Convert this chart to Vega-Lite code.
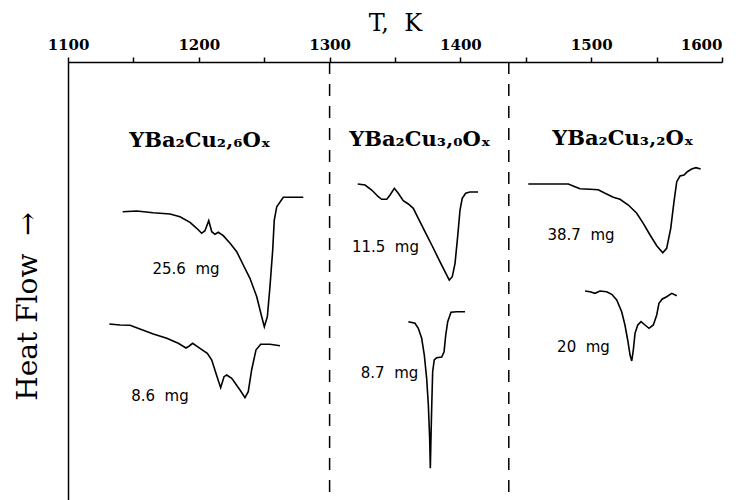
{
  "$schema": "https://vega.github.io/schema/vega-lite/v6.json",
  "width": 654,
  "height": 438,
  "autosize": {"type": "none"},
  "padding": {"left": 68, "top": 62, "right": 18, "bottom": 0},
  "background": "white",
  "config": {"view": {"stroke": null}},
  "datasets": {
    "curves": [
      {"s":"25.6","i":0,"T":1141.8,"hf":288.3},{"s":"25.6","i":1,"T":1152.5,"hf":289},{"s":"25.6","i":2,"T":1165.2,"hf":287.3},{"s":"25.6","i":3,"T":1178.0,"hf":286},{"s":"25.6","i":4,"T":1185.6,"hf":283.3},{"s":"25.6","i":5,"T":1193.3,"hf":277.7},{"s":"25.6","i":6,"T":1198.4,"hf":271.7},{"s":"25.6","i":7,"T":1202.2,"hf":266.7},{"s":"25.6","i":8,"T":1204.7,"hf":269.3},{"s":"25.6","i":9,"T":1207.6,"hf":279.3},{"s":"25.6","i":10,"T":1209.9,"hf":268.3},{"s":"25.6","i":11,"T":1212.4,"hf":265.7},{"s":"25.6","i":12,"T":1214.9,"hf":267.7},{"s":"25.6","i":13,"T":1218.7,"hf":264.3},{"s":"25.6","i":14,"T":1223.9,"hf":256.7},{"s":"25.6","i":15,"T":1229.0,"hf":248.3},{"s":"25.6","i":16,"T":1234.0,"hf":235},{"s":"25.6","i":17,"T":1239.1,"hf":221.7},{"s":"25.6","i":18,"T":1244.3,"hf":203.3},{"s":"25.6","i":19,"T":1248.1,"hf":183.3},{"s":"25.6","i":20,"T":1250.1,"hf":173.3},{"s":"25.6","i":21,"T":1252.4,"hf":183.3},{"s":"25.6","i":22,"T":1254.4,"hf":213.3},{"s":"25.6","i":23,"T":1256.5,"hf":250},{"s":"25.6","i":24,"T":1257.7,"hf":280},{"s":"25.6","i":25,"T":1259.6,"hf":293.3},{"s":"25.6","i":26,"T":1264.6,"hf":302.7},{"s":"25.6","i":27,"T":1279.9,"hf":302.7},
      {"s":"8.6","i":0,"T":1131.6,"hf":176},{"s":"8.6","i":1,"T":1139.8,"hf":175},{"s":"8.6","i":2,"T":1147.4,"hf":174.7},{"s":"8.6","i":3,"T":1155.0,"hf":171},{"s":"8.6","i":4,"T":1165.2,"hf":166},{"s":"8.6","i":5,"T":1175.5,"hf":161.7},{"s":"8.6","i":6,"T":1184.3,"hf":156.7},{"s":"8.6","i":7,"T":1190.2,"hf":152},{"s":"8.6","i":8,"T":1192.7,"hf":154},{"s":"8.6","i":9,"T":1195.3,"hf":156.7},{"s":"8.6","i":10,"T":1200.9,"hf":151.7},{"s":"8.6","i":11,"T":1206.5,"hf":146.7},{"s":"8.6","i":12,"T":1209.9,"hf":140},{"s":"8.6","i":13,"T":1213.1,"hf":126.7},{"s":"8.6","i":14,"T":1216.7,"hf":112.3},{"s":"8.6","i":15,"T":1219.3,"hf":123.3},{"s":"8.6","i":16,"T":1221.3,"hf":125},{"s":"8.6","i":17,"T":1225.2,"hf":121.7},{"s":"8.6","i":18,"T":1231.5,"hf":110},{"s":"8.6","i":19,"T":1235.3,"hf":102.3},{"s":"8.6","i":20,"T":1237.8,"hf":108.3},{"s":"8.6","i":21,"T":1240.4,"hf":130},{"s":"8.6","i":22,"T":1243.7,"hf":150},{"s":"8.6","i":23,"T":1247.3,"hf":155.7},{"s":"8.6","i":24,"T":1254.4,"hf":155.7},{"s":"8.6","i":25,"T":1262.1,"hf":154.3},
      {"s":"11.5","i":0,"T":1321.5,"hf":316},{"s":"11.5","i":1,"T":1327.1,"hf":315},{"s":"11.5","i":2,"T":1332.2,"hf":310},{"s":"11.5","i":3,"T":1337.2,"hf":303.3},{"s":"11.5","i":4,"T":1339.8,"hf":300.7},{"s":"11.5","i":5,"T":1343.7,"hf":300.7},{"s":"11.5","i":6,"T":1346.2,"hf":305},{"s":"11.5","i":7,"T":1349.5,"hf":311.7},{"s":"11.5","i":8,"T":1352.5,"hf":306.7},{"s":"11.5","i":9,"T":1356.3,"hf":299.3},{"s":"11.5","i":10,"T":1360.2,"hf":296},{"s":"11.5","i":11,"T":1364.0,"hf":291.7},{"s":"11.5","i":12,"T":1367.8,"hf":281.7},{"s":"11.5","i":13,"T":1372.9,"hf":268.3},{"s":"11.5","i":14,"T":1378.1,"hf":255},{"s":"11.5","i":15,"T":1383.1,"hf":241.7},{"s":"11.5","i":16,"T":1388.2,"hf":228.3},{"s":"11.5","i":17,"T":1391.5,"hf":220},{"s":"11.5","i":18,"T":1393.8,"hf":223.3},{"s":"11.5","i":19,"T":1395.9,"hf":236.7},{"s":"11.5","i":20,"T":1397.9,"hf":263.3},{"s":"11.5","i":21,"T":1399.7,"hf":290},{"s":"11.5","i":22,"T":1401.4,"hf":301.7},{"s":"11.5","i":23,"T":1404.0,"hf":306.7},{"s":"11.5","i":24,"T":1407.3,"hf":308},{"s":"11.5","i":25,"T":1413.5,"hf":308},
      {"s":"8.7","i":0,"T":1360.2,"hf":178.3},{"s":"8.7","i":1,"T":1365.3,"hf":176.7},{"s":"8.7","i":2,"T":1367.8,"hf":171.7},{"s":"8.7","i":3,"T":1370.4,"hf":161.7},{"s":"8.7","i":4,"T":1372.4,"hf":145},{"s":"8.7","i":5,"T":1374.2,"hf":121.7},{"s":"8.7","i":6,"T":1375.5,"hf":95},{"s":"8.7","i":7,"T":1376.5,"hf":61.7},{"s":"8.7","i":8,"T":1377.0,"hf":31.7},{"s":"8.7","i":9,"T":1377.5,"hf":61.7},{"s":"8.7","i":10,"T":1378.1,"hf":95},{"s":"8.7","i":11,"T":1378.8,"hf":128.3},{"s":"8.7","i":12,"T":1380.0,"hf":140},{"s":"8.7","i":13,"T":1381.9,"hf":142.3},{"s":"8.7","i":14,"T":1385.7,"hf":143},{"s":"8.7","i":15,"T":1387.5,"hf":148.3},{"s":"8.7","i":16,"T":1388.8,"hf":165},{"s":"8.7","i":17,"T":1390.3,"hf":178.3},{"s":"8.7","i":18,"T":1392.8,"hf":187.7},{"s":"8.7","i":19,"T":1397.2,"hf":188.3},{"s":"8.7","i":20,"T":1403.5,"hf":188.3},
      {"s":"38.7","i":0,"T":1451.9,"hf":316},{"s":"38.7","i":1,"T":1465.9,"hf":316},{"s":"38.7","i":2,"T":1482.5,"hf":316},{"s":"38.7","i":3,"T":1487.6,"hf":313.3},{"s":"38.7","i":4,"T":1491.4,"hf":311.3},{"s":"38.7","i":5,"T":1499.1,"hf":310.7},{"s":"38.7","i":6,"T":1505.4,"hf":310.3},{"s":"38.7","i":7,"T":1510.6,"hf":306.7},{"s":"38.7","i":8,"T":1516.9,"hf":302.7},{"s":"38.7","i":9,"T":1522.0,"hf":300.7},{"s":"38.7","i":10,"T":1528.4,"hf":295},{"s":"38.7","i":11,"T":1534.8,"hf":286.7},{"s":"38.7","i":12,"T":1539.8,"hf":276.7},{"s":"38.7","i":13,"T":1545.0,"hf":265},{"s":"38.7","i":14,"T":1550.1,"hf":254.3},{"s":"38.7","i":15,"T":1554.7,"hf":247.3},{"s":"38.7","i":16,"T":1557.7,"hf":251.7},{"s":"38.7","i":17,"T":1560.8,"hf":271.7},{"s":"38.7","i":18,"T":1563.3,"hf":298.3},{"s":"38.7","i":19,"T":1565.4,"hf":318.3},{"s":"38.7","i":20,"T":1567.9,"hf":324},{"s":"38.7","i":21,"T":1571.0,"hf":325},{"s":"38.7","i":22,"T":1573.5,"hf":328.3},{"s":"38.7","i":23,"T":1576.8,"hf":331},{"s":"38.7","i":24,"T":1580.1,"hf":332.3},{"s":"38.7","i":25,"T":1583.7,"hf":331},
      {"s":"20","i":0,"T":1495.3,"hf":209},{"s":"20","i":1,"T":1499.1,"hf":208.3},{"s":"20","i":2,"T":1502.9,"hf":206.7},{"s":"20","i":3,"T":1506.7,"hf":209},{"s":"20","i":4,"T":1511.8,"hf":208.3},{"s":"20","i":5,"T":1515.7,"hf":205.7},{"s":"20","i":6,"T":1519.5,"hf":200},{"s":"20","i":7,"T":1523.3,"hf":188.3},{"s":"20","i":8,"T":1525.8,"hf":175},{"s":"20","i":9,"T":1527.9,"hf":160},{"s":"20","i":10,"T":1529.7,"hf":145},{"s":"20","i":11,"T":1531.0,"hf":139},{"s":"20","i":12,"T":1532.2,"hf":150},{"s":"20","i":13,"T":1533.5,"hf":166.7},{"s":"20","i":14,"T":1535.6,"hf":175},{"s":"20","i":15,"T":1538.1,"hf":178.3},{"s":"20","i":16,"T":1541.1,"hf":175},{"s":"20","i":17,"T":1544.2,"hf":171.7},{"s":"20","i":18,"T":1547.5,"hf":175},{"s":"20","i":19,"T":1550.1,"hf":185},{"s":"20","i":20,"T":1551.8,"hf":196.7},{"s":"20","i":21,"T":1554.4,"hf":201},{"s":"20","i":22,"T":1557.7,"hf":203.3},{"s":"20","i":23,"T":1561.6,"hf":206.7},{"s":"20","i":24,"T":1565.4,"hf":204.3}
    ],
    "dividers": [{"T": 1300}, {"T": 1437}],
    "compounds": [
      {"label": "YBa₂Cu₂‚₆Oₓ", "T": 1200.9, "hf": 353},
      {"label": "YBa₂Cu₃‚₀Oₓ", "T": 1369.1, "hf": 354},
      {"label": "YBa₂Cu₃‚₂Oₓ", "T": 1524.3, "hf": 355}
    ],
    "masses": [
      {"label": "25.6\u00a0\u00a0mg", "T": 1190.2, "hf": 231},
      {"label": "8.6\u00a0\u00a0mg", "T": 1170.3, "hf": 104},
      {"label": "11.5\u00a0\u00a0mg", "T": 1342.7, "hf": 253.3},
      {"label": "8.7\u00a0\u00a0mg", "T": 1345.8, "hf": 127},
      {"label": "38.7\u00a0\u00a0mg", "T": 1492.2, "hf": 265},
      {"label": "20\u00a0\u00a0mg", "T": 1494.1, "hf": 153.3}
    ]
  },
  "layer": [
    {
      "data": {"name": "curves"},
      "mark": {"type": "line", "color": "black", "strokeWidth": 1.6},
      "encoding": {
        "x": {
          "field": "T", "type": "quantitative",
          "scale": {"domain": [1100, 1600], "nice": false, "zero": false},
          "axis": {
            "orient": "top",
            "title": "T,\u00a0\u00a0K",
            "titleFont": "DejaVu Serif",
            "titleFontSize": 24,
            "titleFontWeight": "normal",
            "titleColor": "black",
            "titlePadding": 2,
            "values": [1100, 1150, 1200, 1250, 1300, 1350, 1400, 1450, 1500, 1550, 1600],
            "format": "d",
            "labelExpr": "datum.value % 100 === 0 ? datum.label : ''",
            "labelFont": "DejaVu Serif",
            "labelFontSize": 15,
            "labelFontWeight": "bold",
            "labelColor": "black",
            "labelFlush": false,
            "labelOverlap": false,
            "labelAlign": {"condition": {"test": "datum.value === 1600", "value": "right"}, "value": "center"},
            "labelPadding": 5,
            "tickSize": 5,
            "tickColor": "black",
            "tickWidth": 1.5,
            "domainColor": "black",
            "domainWidth": 1.5,
            "grid": false
          }
        },
        "y": {
          "field": "hf", "type": "quantitative",
          "scale": {"domain": [0, 438], "nice": false, "zero": false},
          "axis": {
            "orient": "left",
            "title": "Heat Flow\u00a0\u00a0→",
            "titleFont": "DejaVu Serif",
            "titleFontSize": 28,
            "titleFontWeight": "normal",
            "titleColor": "black",
            "titleAngle": -90,
            "titleAlign": "center",
            "titleBaseline": "middle",
            "titleX": -40,
            "titleY": 244,
            "ticks": false,
            "labels": false,
            "grid": false,
            "domainColor": "black",
            "domainWidth": 1.5
          }
        },
        "detail": {"field": "s", "type": "nominal"},
        "order": {"field": "i", "type": "quantitative"}
      }
    },
    {
      "data": {"name": "dividers"},
      "mark": {"type": "rule", "color": "black", "strokeWidth": 1.5, "strokeDash": [12, 10]},
      "encoding": {
        "x": {"field": "T", "type": "quantitative"}
      }
    },
    {
      "data": {"name": "compounds"},
      "mark": {"type": "text", "font": "DejaVu Serif", "fontSize": 21, "fontWeight": "bold", "color": "black", "align": "center", "baseline": "alphabetic"},
      "encoding": {
        "x": {"field": "T", "type": "quantitative"},
        "y": {"field": "hf", "type": "quantitative"},
        "text": {"field": "label"}
      }
    },
    {
      "data": {"name": "masses"},
      "mark": {"type": "text", "font": "DejaVu Sans", "fontSize": 15, "color": "black", "align": "center", "baseline": "middle"},
      "encoding": {
        "x": {"field": "T", "type": "quantitative"},
        "y": {"field": "hf", "type": "quantitative"},
        "text": {"field": "label"}
      }
    }
  ]
}
